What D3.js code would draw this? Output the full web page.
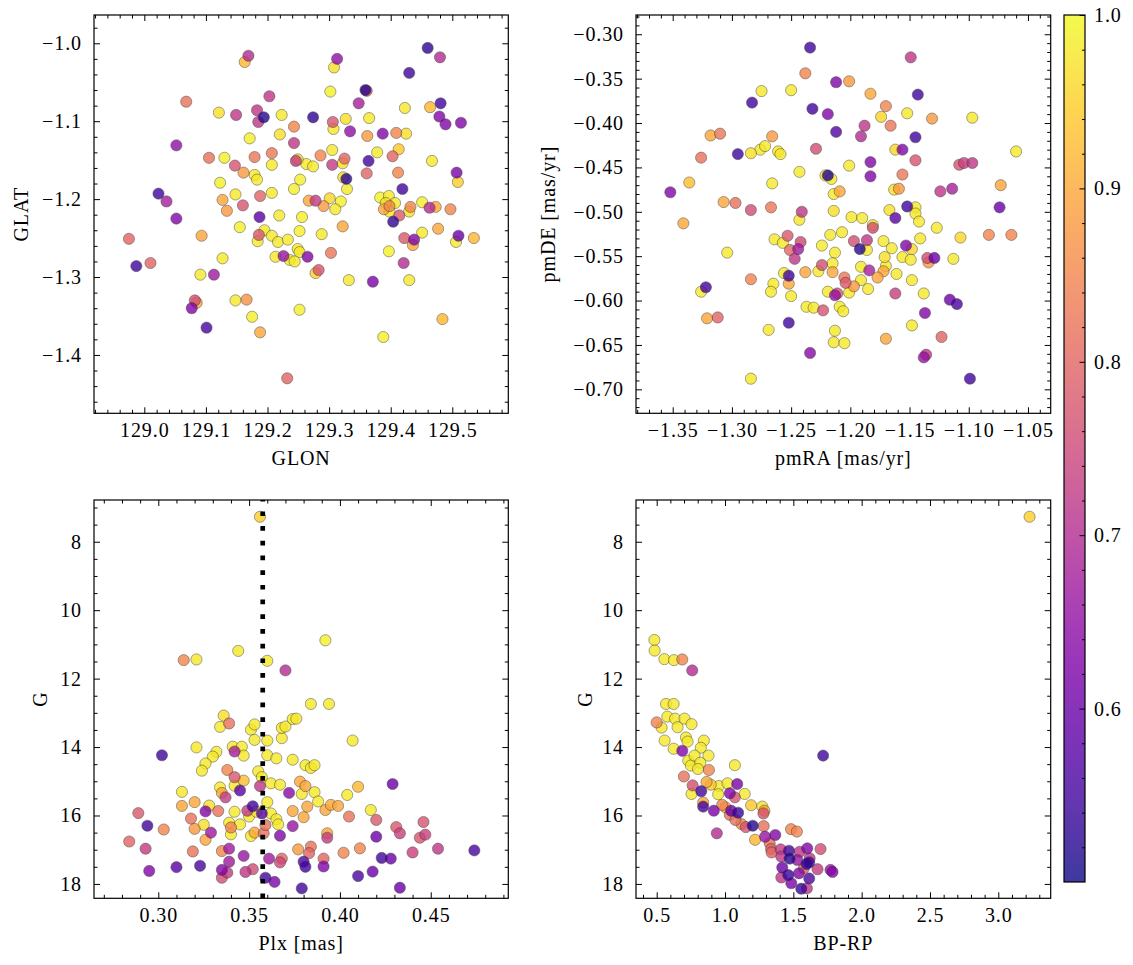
<!DOCTYPE html>
<html><head><meta charset="utf-8">
<script src="https://cdn.jsdelivr.net/npm/d3@7"></script>
<style>
body{margin:0;background:#fff}
svg text{font-family:"Liberation Serif","Times New Roman",serif;fill:#000;letter-spacing:0.9px}
</style>
</head><body>
<svg id="c" width="1133" height="965"></svg>
<script>
// ---------- DATA: [x, y, membership probability] ----------
const glonGlat = [
[129.460,-1.006,.53],[129.480,-1.018,.70],[129.169,-1.016,.70],[129.163,-1.024,.92],[129.313,-1.020,.65],
[129.308,-1.031,.97],[129.430,-1.038,.55],[129.302,-1.062,.99],[129.359,-1.060,.52],[129.361,-1.061,.80],
[129.203,-1.068,.72],[129.068,-1.075,.82],[129.348,-1.077,.68],[129.481,-1.077,.55],[129.464,-1.082,.92],
[129.423,-1.083,.98],[129.121,-1.089,.97],[129.183,-1.086,.72],[129.185,-1.101,.72],[129.194,-1.095,.52],
[129.149,-1.092,.72],[129.223,-1.092,.98],[129.274,-1.095,.53],[129.306,-1.101,.77],[129.307,-1.110,.98],
[129.327,-1.097,.97],[129.365,-1.096,.98],[129.479,-1.094,.63],[129.489,-1.104,.63],[129.514,-1.102,.63],
[129.243,-1.107,.85],[129.220,-1.117,.97],[129.334,-1.113,.65],[129.362,-1.119,.88],[129.387,-1.116,.63],
[129.409,-1.115,.85],[129.425,-1.116,.97],[129.171,-1.122,.99],[129.052,-1.131,.65],[129.243,-1.128,.72],
[129.378,-1.140,.98],[129.413,-1.136,.94],[129.105,-1.147,.82],[129.130,-1.147,.99],[129.179,-1.146,.83],
[129.207,-1.141,.83],[129.286,-1.144,.85],[129.305,-1.137,.98],[129.325,-1.148,.80],[129.322,-1.154,.97],
[129.246,-1.151,.73],[129.249,-1.149,.96],[129.263,-1.155,.98],[129.274,-1.158,.98],[129.305,-1.156,.73],
[129.364,-1.151,.55],[129.403,-1.145,.80],[129.467,-1.151,.98],[129.147,-1.157,.77],[129.161,-1.166,.88],
[129.179,-1.169,.98],[129.183,-1.175,.98],[129.207,-1.156,.98],[129.323,-1.172,.97],[129.328,-1.174,.52],
[129.361,-1.167,.80],[129.412,-1.166,.85],[129.507,-1.166,.62],[129.509,-1.178,.95],[129.123,-1.179,.99],
[129.253,-1.175,.99],[129.243,-1.187,.99],[129.329,-1.187,.98],[129.419,-1.187,.55],[129.023,-1.193,.55],
[129.036,-1.203,.68],[129.052,-1.225,.63],[129.148,-1.194,.98],[129.127,-1.201,.90],[129.134,-1.215,.88],
[129.160,-1.208,.77],[129.188,-1.196,.80],[129.207,-1.192,.98],[129.267,-1.202,.90],[129.278,-1.202,.73],
[129.291,-1.209,.88],[129.301,-1.199,.96],[129.310,-1.213,.98],[129.319,-1.203,.99],[129.383,-1.198,.99],
[129.397,-1.196,.98],[129.392,-1.205,.97],[129.398,-1.209,.85],[129.389,-1.213,.90],[129.407,-1.205,.98],
[129.404,-1.229,.53],[129.398,-1.216,.98],[129.414,-1.221,.78],[129.430,-1.216,.97],[129.432,-1.210,.85],
[129.451,-1.204,.99],[129.463,-1.211,.70],[129.473,-1.210,.90],[129.497,-1.213,.85],[129.187,-1.223,.58],
[129.219,-1.221,.98],[129.256,-1.223,.99],[129.155,-1.236,.99],[129.252,-1.241,.99],[129.288,-1.245,.98],
[129.322,-1.235,.90],[129.477,-1.238,.90],[129.451,-1.243,.98],[129.093,-1.247,.90],[128.975,-1.251,.80],
[129.186,-1.246,.78],[129.184,-1.254,.98],[129.195,-1.240,.98],[129.207,-1.247,.98],[129.217,-1.255,.98],
[129.233,-1.252,.98],[129.422,-1.250,.78],[129.436,-1.259,.90],[129.438,-1.252,.63],[129.510,-1.247,.60],
[129.506,-1.255,.98],[129.535,-1.250,.92],[129.249,-1.264,.98],[129.252,-1.268,.98],[129.213,-1.274,.98],
[129.226,-1.273,.66],[129.236,-1.278,.98],[129.244,-1.280,.98],[129.265,-1.274,.63],[129.303,-1.269,.83],
[129.397,-1.267,.99],[129.127,-1.276,.98],[129.421,-1.282,.70],[128.987,-1.286,.55],[129.010,-1.282,.80],
[129.278,-1.295,.95],[129.283,-1.291,.77],[129.091,-1.297,.98],[129.113,-1.297,.67],[129.332,-1.304,.98],
[129.371,-1.306,.62],[129.430,-1.304,.98],[129.085,-1.333,.90],[129.082,-1.330,.76],[129.077,-1.340,.63],
[129.148,-1.330,.98],[129.166,-1.329,.87],[129.175,-1.351,.99],[129.188,-1.371,.90],[129.101,-1.365,.56],
[129.252,-1.342,.99],[129.388,-1.377,.99],[129.484,-1.354,.92],[129.232,-1.430,.80]
];
const pmraPmde = [
[-1.234,-0.315,.55],[-1.149,-0.326,.72],[-1.238,-0.344,.85],[-1.212,-0.354,.63],[-1.201,-0.353,.88],
[-1.275,-0.364,.98],[-1.250,-0.363,.98],[-1.183,-0.367,.90],[-1.143,-0.368,.55],[-1.283,-0.377,.55],
[-1.232,-0.384,.55],[-1.219,-0.390,.63],[-1.170,-0.381,.85],[-1.174,-0.393,.96],[-1.166,-0.403,.83],
[-1.152,-0.389,.98],[-1.131,-0.395,.88],[-1.097,-0.394,.98],[-1.212,-0.410,.57],[-1.188,-0.403,.72],
[-1.191,-0.415,.70],[-1.145,-0.416,.55],[-1.318,-0.414,.90],[-1.310,-0.412,.83],[-1.266,-0.415,.88],
[-1.326,-0.439,.82],[-1.295,-0.435,.55],[-1.284,-0.434,.97],[-1.276,-0.430,.98],[-1.272,-0.426,.98],
[-1.261,-0.432,.98],[-1.259,-0.435,.98],[-1.229,-0.429,.76],[-1.162,-0.430,.96],[-1.156,-0.430,.63],
[-1.145,-0.442,.77],[-1.060,-0.432,.98],[-1.108,-0.447,.77],[-1.104,-0.445,.74],[-1.097,-0.445,.72],
[-1.183,-0.444,.63],[-1.183,-0.460,.63],[-1.201,-0.448,.98],[-1.243,-0.455,.98],[-1.336,-0.467,.93],
[-1.352,-0.478,.63],[-1.266,-0.468,.98],[-1.221,-0.459,.98],[-1.216,-0.463,.98],[-1.219,-0.459,.52],
[-1.156,-0.458,.83],[-1.073,-0.470,.90],[-1.124,-0.477,.72],[-1.114,-0.474,.68],[-1.214,-0.480,.98],
[-1.209,-0.477,.90],[-1.163,-0.475,.97],[-1.159,-0.474,.88],[-1.341,-0.513,.90],[-1.307,-0.489,.90],
[-1.297,-0.490,.82],[-1.284,-0.498,.76],[-1.267,-0.495,.83],[-1.243,-0.509,.98],[-1.241,-0.500,.72],
[-1.214,-0.499,.97],[-1.167,-0.498,.97],[-1.162,-0.507,.58],[-1.152,-0.494,.55],[-1.145,-0.495,.98],
[-1.145,-0.502,.98],[-1.142,-0.511,.98],[-1.127,-0.518,.98],[-1.074,-0.495,.60],[-1.083,-0.526,.85],
[-1.064,-0.526,.85],[-1.199,-0.506,.98],[-1.190,-0.507,.98],[-1.181,-0.515,.98],[-1.181,-0.518,.76],
[-1.264,-0.531,.98],[-1.257,-0.535,.98],[-1.253,-0.527,.78],[-1.251,-0.543,.80],[-1.244,-0.542,.67],
[-1.242,-0.534,.75],[-1.247,-0.553,.72],[-1.224,-0.538,.98],[-1.217,-0.526,.98],[-1.213,-0.546,.98],
[-1.207,-0.523,.98],[-1.197,-0.533,.76],[-1.192,-0.542,.52],[-1.186,-0.543,.98],[-1.186,-0.532,.72],
[-1.172,-0.533,.98],[-1.165,-0.541,.98],[-1.153,-0.538,.63],[-1.141,-0.530,.98],[-1.156,-0.551,.98],
[-1.148,-0.542,.96],[-1.149,-0.554,.98],[-1.135,-0.552,.76],[-1.134,-0.557,.88],[-1.129,-0.552,.60],
[-1.113,-0.553,.98],[-1.107,-0.529,.96],[-1.171,-0.551,.97],[-1.170,-0.561,.98],[-1.172,-0.567,.90],
[-1.177,-0.574,.90],[-1.184,-0.566,.68],[-1.191,-0.562,.98],[-1.191,-0.577,.98],[-1.185,-0.587,.98],
[-1.161,-0.570,.98],[-1.148,-0.577,.98],[-1.138,-0.592,.98],[-1.162,-0.592,.74],[-1.205,-0.574,.83],
[-1.204,-0.580,.78],[-1.197,-0.584,.88],[-1.201,-0.591,.98],[-1.215,-0.558,.98],[-1.215,-0.568,.90],
[-1.224,-0.560,.76],[-1.227,-0.567,.98],[-1.238,-0.568,.90],[-1.256,-0.569,.98],[-1.252,-0.572,.55],
[-1.252,-0.581,.90],[-1.265,-0.581,.98],[-1.267,-0.590,.98],[-1.250,-0.595,.98],[-1.284,-0.576,.85],
[-1.322,-0.585,.55],[-1.326,-0.590,.98],[-1.304,-0.546,.98],[-1.219,-0.590,.98],[-1.213,-0.594,.66],
[-1.211,-0.592,.77],[-1.237,-0.607,.98],[-1.231,-0.608,.98],[-1.223,-0.611,.77],[-1.209,-0.607,.98],
[-1.206,-0.612,.98],[-1.321,-0.620,.90],[-1.312,-0.619,.80],[-1.269,-0.633,.98],[-1.252,-0.625,.55],
[-1.213,-0.634,.98],[-1.214,-0.647,.98],[-1.205,-0.648,.98],[-1.170,-0.643,.90],[-1.148,-0.628,.98],
[-1.137,-0.614,.63],[-1.123,-0.641,.80],[-1.116,-0.599,.60],[-1.110,-0.604,.56],[-1.136,-0.661,.72],
[-1.138,-0.664,.66],[-1.234,-0.659,.64],[-1.284,-0.688,.98],[-1.099,-0.688,.55]
];
const plxG = [
[0.356,7.27,.95],[0.392,10.88,.99],[0.314,11.46,.85],[0.321,11.44,.98],[0.344,11.19,.98],
[0.360,11.48,.98],[0.370,11.76,.70],[0.384,12.74,.98],[0.394,12.74,.98],[0.336,13.08,.97],
[0.339,13.31,.82],[0.334,13.41,.98],[0.351,13.49,.98],[0.353,13.34,.98],[0.353,13.79,.98],
[0.360,13.81,.98],[0.368,13.74,.98],[0.368,13.44,.98],[0.370,13.40,.98],[0.374,13.18,.98],
[0.376,13.17,.98],[0.407,13.81,.98],[0.321,14.01,.98],[0.332,14.14,.98],[0.330,14.28,.98],
[0.326,14.48,.98],[0.324,14.69,.98],[0.341,13.99,.98],[0.342,14.13,.68],[0.346,13.99,.98],
[0.347,14.25,.98],[0.302,14.24,.55],[0.355,14.71,.98],[0.360,14.24,.98],[0.365,14.33,.98],
[0.374,14.37,.98],[0.381,14.53,.98],[0.384,14.61,.98],[0.386,14.53,.98],[0.338,14.67,.85],
[0.342,14.88,.78],[0.342,15.13,.98],[0.347,14.98,.93],[0.345,15.27,.58],[0.334,15.18,.98],
[0.335,15.34,.90],[0.337,15.47,.73],[0.356,15.14,.72],[0.357,14.88,.98],[0.362,15.06,.98],
[0.367,15.10,.98],[0.372,15.34,.64],[0.378,15.01,.90],[0.381,15.14,.90],[0.379,15.37,.98],
[0.386,15.32,.98],[0.388,15.59,.98],[0.404,15.40,.98],[0.410,15.16,.92],[0.429,15.08,.60],
[0.313,15.31,.98],[0.313,15.72,.90],[0.320,15.61,.90],[0.328,15.71,.97],[0.326,15.88,.63],
[0.333,15.87,.82],[0.342,15.89,.98],[0.349,15.86,.73],[0.352,15.73,.55],[0.357,15.94,.57],
[0.350,16.03,.98],[0.354,15.89,.98],[0.360,15.61,.98],[0.362,15.94,.98],[0.365,16.11,.98],
[0.366,16.26,.98],[0.374,15.87,.90],[0.380,16.05,.90],[0.382,15.74,.90],[0.392,15.84,.90],
[0.395,15.69,.90],[0.399,15.72,.90],[0.405,16.03,.82],[0.417,15.84,.98],[0.420,16.13,.78],
[0.289,15.93,.78],[0.294,16.30,.55],[0.303,16.41,.85],[0.318,16.09,.82],[0.320,16.39,.88],
[0.325,16.27,.97],[0.329,16.50,.67],[0.326,16.71,.90],[0.339,16.21,.98],[0.340,16.35,.85],
[0.340,16.55,.98],[0.345,16.26,.98],[0.351,16.60,.98],[0.353,16.50,.90],[0.358,16.52,.82],
[0.359,16.28,.82],[0.367,16.59,.63],[0.374,16.31,.66],[0.393,16.52,.90],[0.393,16.65,.73],
[0.420,16.62,.60],[0.431,16.34,.78],[0.433,16.52,.74],[0.446,16.19,.77],[0.444,16.65,.77],
[0.447,16.56,.74],[0.284,16.76,.80],[0.293,16.97,.73],[0.319,17.05,.82],[0.335,17.04,.85],
[0.339,16.97,.67],[0.347,17.18,.66],[0.361,17.26,.67],[0.368,17.26,.80],[0.367,17.37,.75],
[0.377,16.99,.88],[0.384,16.91,.82],[0.383,17.10,.80],[0.391,17.26,.80],[0.391,17.49,.63],
[0.402,17.09,.85],[0.411,16.96,.85],[0.423,17.24,.55],[0.428,17.26,.60],[0.440,17.08,.74],
[0.454,16.97,.72],[0.474,17.02,.56],[0.295,17.62,.63],[0.310,17.51,.58],[0.323,17.47,.56],
[0.335,17.59,.63],[0.335,17.82,.76],[0.339,17.35,.67],[0.338,17.67,.73],[0.348,17.65,.72],
[0.352,17.57,.76],[0.359,17.82,.55],[0.364,17.94,.62],[0.380,17.35,.56],[0.381,17.50,.55],
[0.379,18.13,.55],[0.410,17.77,.56],[0.418,17.64,.60],[0.433,18.11,.60]
];
const bprpG = [
[3.229,7.27,.95],[0.483,10.87,.98],[0.485,11.18,.98],[0.556,11.43,.98],[0.626,11.46,.98],
[0.687,11.44,.85],[0.760,11.76,.70],[0.568,12.74,.98],[0.624,12.74,.98],[0.500,13.28,.85],
[0.536,13.43,.98],[0.578,13.11,.98],[0.634,13.17,.98],[0.653,13.42,.98],[0.704,13.17,.98],
[0.755,13.33,.98],[0.558,13.81,.98],[0.624,14.05,.98],[0.714,13.72,.98],[0.726,13.84,.98],
[0.687,14.11,.63],[0.845,13.81,.98],[0.823,14.02,.98],[0.879,14.25,.98],[0.731,14.40,.98],
[0.750,14.54,.98],[0.777,14.25,.98],[0.819,14.46,.98],[0.802,14.64,.98],[1.072,14.53,.98],
[0.882,14.67,.85],[0.699,14.86,.82],[0.763,15.12,.76],[0.755,15.37,.98],[0.826,15.29,.55],
[0.865,15.02,.90],[0.896,15.10,.94],[0.955,15.14,.98],[1.018,15.06,.98],[1.089,15.08,.62],
[1.035,15.35,.63],[1.072,15.47,.77],[1.144,15.37,.98],[0.950,15.38,.98],[0.840,15.62,.90],
[0.840,15.74,.55],[0.918,15.86,.62],[0.979,15.69,.85],[1.003,15.76,.90],[1.045,15.86,.60],
[1.035,15.98,.82],[1.096,15.92,.54],[1.076,16.13,.82],[1.120,16.25,.85],[1.152,16.34,.77],
[1.191,15.70,.94],[1.203,16.30,.52],[1.273,15.74,.97],[1.288,15.86,.90],[1.281,15.94,.77],
[1.220,16.71,.92],[1.283,16.31,.82],[1.293,16.62,.66],[1.368,16.57,.63],[0.940,16.52,.70],
[1.327,16.81,.82],[1.337,16.98,.80],[1.341,17.08,.80],[1.407,16.99,.73],[1.412,17.20,.72],
[1.419,17.52,.60],[1.412,17.81,.72],[1.468,17.03,.55],[1.473,17.26,.52],[1.463,17.74,.54],
[1.483,16.40,.85],[1.526,16.47,.85],[1.485,17.98,.62],[1.529,17.30,.66],[1.546,17.06,.72],
[1.541,17.69,.63],[1.558,18.14,.54],[1.597,17.42,.53],[1.599,18.13,.72],[1.619,17.25,.72],
[1.602,16.96,.63],[1.616,17.37,.55],[1.616,17.84,.56],[1.677,17.57,.73],[1.699,16.98,.76],
[1.772,17.59,.66],[1.787,17.65,.63],[1.718,14.25,.55],[1.577,17.54,.80]
];
const plxMean = 0.3575;

// ---------- TICKS ----------
const glonTicks = [129.0,129.1,129.2,129.3,129.4,129.5];
const glatTicks = [-1.0,-1.1,-1.2,-1.3,-1.4];
const pmraTicks = [-1.35,-1.30,-1.25,-1.20,-1.15,-1.10,-1.05];
const pmdeTicks = [-0.30,-0.35,-0.40,-0.45,-0.50,-0.55,-0.60,-0.65,-0.70];
const plxTicks = [0.30,0.35,0.40,0.45];
const gTicks = [8,10,12,14,16,18];
const bprpTicks = [0.5,1.0,1.5,2.0,2.5,3.0];
const probTicks = [0.6,0.7,0.8,0.9,1.0];
const probRange = [0.5,1.0];

// ---------- LAYOUT ----------
const svg = d3.select("#c");
const FS = 20;
const color = p => d3.interpolatePlasma((p - probRange[0])/(probRange[1]-probRange[0]));

const panels = [
 {box:{l:94,r:508.3,t:15,b:413.3}, xd:[128.9183,129.5909], yd:[-1.4749,-0.9637], data:glonGlat,
  xt:glonTicks, xm:0.02, yt:glatTicks, ym:0.02, xf:d3.format(".1f"), yf:d3.format(".1f"),
  xl:"GLON", yl:"GLAT", ylx:21},
 {box:{l:636,r:1050.7,t:15,b:413.3}, xd:[-1.381,-1.0308], yd:[-0.727,-0.2783], data:pmraPmde,
  xt:pmraTicks, xm:0.01, yt:pmdeTicks, ym:0.01, xf:d3.format(".2f"), yf:d3.format(".2f"),
  xl:"pmRA [mas/yr]", yl:"pmDE [mas/yr]", ylx:548},
 {box:{l:94,r:508.3,t:500,b:898.3}, xd:[0.2646,0.4927], yd:[18.42,6.78], data:plxG,
  xt:plxTicks, xm:0.01, yt:gTicks, ym:0.5, xf:d3.format(".2f"), yf:d3.format("d"),
  xl:"Plx [mas]", yl:"G", ylx:40, vline:plxMean},
 {box:{l:636,r:1050.7,t:500,b:898.3}, xd:[0.3485,3.3835], yd:[18.42,6.78], data:bprpG,
  xt:bprpTicks, xm:0.1, yt:gTicks, ym:0.5, xf:d3.format(".1f"), yf:d3.format("d"),
  xl:"BP-RP", yl:"G", ylx:585}
];

function minorTicks(domain, step, majors){
  const lo = Math.min(...domain), hi = Math.max(...domain);
  const out = [];
  for (let k = Math.ceil(lo/step - 1e-9); k*step <= hi + 1e-9; k++){
    const v = +(k*step).toFixed(6);
    if (!majors.some(m => Math.abs(m - v) < step*0.1)) out.push(v);
  }
  return out;
}
function styleAxis(g){
  g.select(".domain").remove();
  g.attr("font-family",null).attr("font-size",null);
  g.selectAll("line").attr("stroke","#000").attr("stroke-width",1);
  g.selectAll("text").style("font-size",FS+"px").attr("fill","#000");
}

panels.forEach((P,i) => {
  const b = P.box;
  const sx = d3.scaleLinear().domain(P.xd).range([b.l,b.r]);
  const sy = d3.scaleLinear().domain(P.yd).range([b.b,b.t]);
  const clipId = "clip"+i;
  svg.append("clipPath").attr("id",clipId).append("rect")
     .attr("x",b.l).attr("y",b.t).attr("width",b.r-b.l).attr("height",b.b-b.t);
  const g = svg.append("g").attr("clip-path",`url(#${clipId})`);
  const pts = P.data.slice().sort((a,c) => c[2]-a[2]);
  g.selectAll("circle").data(pts).enter().append("circle")
    .attr("cx",d=>sx(d[0])).attr("cy",d=>sy(d[1])).attr("r",5.6)
    .attr("fill",d=>color(d[2])).attr("stroke","#222").attr("stroke-width",0.5)
    .attr("opacity",0.8);
  if (P.vline !== undefined){
    g.append("line").attr("x1",sx(P.vline)).attr("x2",sx(P.vline))
     .attr("y1",b.b).attr("y2",b.t).attr("stroke","#000")
     .attr("stroke-width",4.7).attr("stroke-dasharray","4.7 10");
  }
  const xmin = minorTicks(P.xd, P.xm, P.xt), ymin = minorTicks(P.yd, P.ym, P.yt);
  svg.append("g").attr("transform",`translate(0,${b.b})`)
    .call(d3.axisBottom(sx).tickValues(P.xt).tickSize(-6).tickPadding(9.3).tickFormat(P.xf)).call(styleAxis);
  svg.append("g").attr("transform",`translate(0,${b.b})`)
    .call(d3.axisBottom(sx).tickValues(xmin).tickSize(-3.5).tickFormat("")).call(styleAxis);
  svg.append("g").attr("transform",`translate(0,${b.t})`)
    .call(d3.axisTop(sx).tickValues(P.xt).tickSize(-6).tickFormat("")).call(styleAxis);
  svg.append("g").attr("transform",`translate(0,${b.t})`)
    .call(d3.axisTop(sx).tickValues(xmin).tickSize(-3.5).tickFormat("")).call(styleAxis);
  svg.append("g").attr("transform",`translate(${b.l},0)`)
    .call(d3.axisLeft(sy).tickValues(P.yt).tickSize(-6).tickPadding(12).tickFormat(P.yf)).call(styleAxis);
  svg.append("g").attr("transform",`translate(${b.l},0)`)
    .call(d3.axisLeft(sy).tickValues(ymin).tickSize(-3.5).tickFormat("")).call(styleAxis);
  svg.append("g").attr("transform",`translate(${b.r},0)`)
    .call(d3.axisRight(sy).tickValues(P.yt).tickSize(-6).tickFormat("")).call(styleAxis);
  svg.append("g").attr("transform",`translate(${b.r},0)`)
    .call(d3.axisRight(sy).tickValues(ymin).tickSize(-3.5).tickFormat("")).call(styleAxis);
  svg.append("rect").attr("x",b.l).attr("y",b.t).attr("width",b.r-b.l).attr("height",b.b-b.t)
    .attr("fill","none").attr("stroke","#000").attr("stroke-width",1.2);
  svg.append("text").attr("x",(b.l+b.r)/2).attr("y",b.b+52).attr("text-anchor","middle")
    .style("font-size",FS+"px").text(P.xl);
  svg.append("text").attr("transform",`translate(${P.ylx},${(b.t+b.b)/2}) rotate(-90)`)
    .attr("text-anchor","middle").attr("dominant-baseline","central")
    .style("font-size",FS+"px").text(P.yl);
});

// ---------- COLORBAR ----------
const cb = {l:1064,r:1085,t:15,b:882};
const sc = d3.scaleLinear().domain(probRange).range([cb.b,cb.t]);
const grad = svg.append("defs").append("linearGradient").attr("id","cbg")
  .attr("x1",0).attr("y1",1).attr("x2",0).attr("y2",0);
d3.range(0,1.0001,0.05).forEach(t => {
  grad.append("stop").attr("offset",t).attr("stop-color",d3.interpolatePlasma(t)).attr("stop-opacity",0.8);
});
svg.append("rect").attr("x",cb.l).attr("y",cb.t).attr("width",cb.r-cb.l).attr("height",cb.b-cb.t)
  .attr("fill","url(#cbg)");
svg.append("g").attr("transform",`translate(${cb.r},0)`)
  .call(d3.axisRight(sc).tickValues(probTicks).tickSize(-5.5).tickPadding(9).tickFormat(d3.format(".1f"))).call(styleAxis);
svg.append("g").attr("transform",`translate(${cb.r},0)`)
  .call(d3.axisRight(sc).tickValues(minorTicks(probRange,0.02,probTicks.concat([0.5]))).tickSize(-3).tickFormat("")).call(styleAxis);
svg.append("rect").attr("x",cb.l).attr("y",cb.t).attr("width",cb.r-cb.l).attr("height",cb.b-cb.t)
  .attr("fill","none").attr("stroke","#000").attr("stroke-width",1.2);
</script>
</body></html>
